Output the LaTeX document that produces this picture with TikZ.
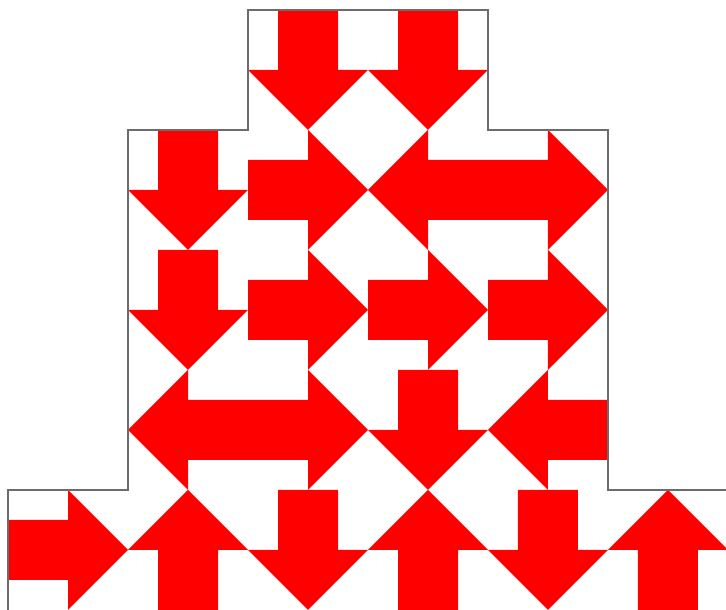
\documentclass[tikz,border=0pt]{standalone}
\usepackage{tikz}

\definecolor{arrowred}{RGB}{255,0,0}
\tikzset{
  cellarrow/.style={fill=arrowred},
  rim/.style={draw=gray!85!black, line width=0.6pt}
}

\begin{document}
\begin{tikzpicture}[x=1cm,y=1cm]
  \useasboundingbox (-0.0667,0) rectangle (5.9833,5.0833);
  % one arrow per cell: column/row/turn (0 = up, 90 = left, 180 = down, -90 = right)
  \foreach \c/\r/\a in {2/4/180, 3/4/180,
                        1/3/180, 2/3/-90, 3/3/90, 4/3/-90,
                        1/2/180, 2/2/-90, 3/2/-90, 4/2/-90,
                        1/1/90, 2/1/-90, 3/1/180, 4/1/90,
                        0/0/-90, 1/0/0, 2/0/180, 3/0/0, 4/0/180, 5/0/0}
    \fill[cellarrow, shift={(\c+0.5,\r+0.5)}, rotate=\a]
      (-0.25,-0.5) -- (0.25,-0.5) -- (0.25,0) -- (0.5,0) -- (0,0.5)
      -- (-0.5,0) -- (-0.25,0) -- cycle;
  % stepped outline
  \draw[rim] (0,0) -- (0,1) -- (1,1) -- (1,4) -- (2,4) -- (2,5) -- (4,5)
    -- (4,4) -- (5,4) -- (5,1) -- (6,1);
\end{tikzpicture}
\end{document}
